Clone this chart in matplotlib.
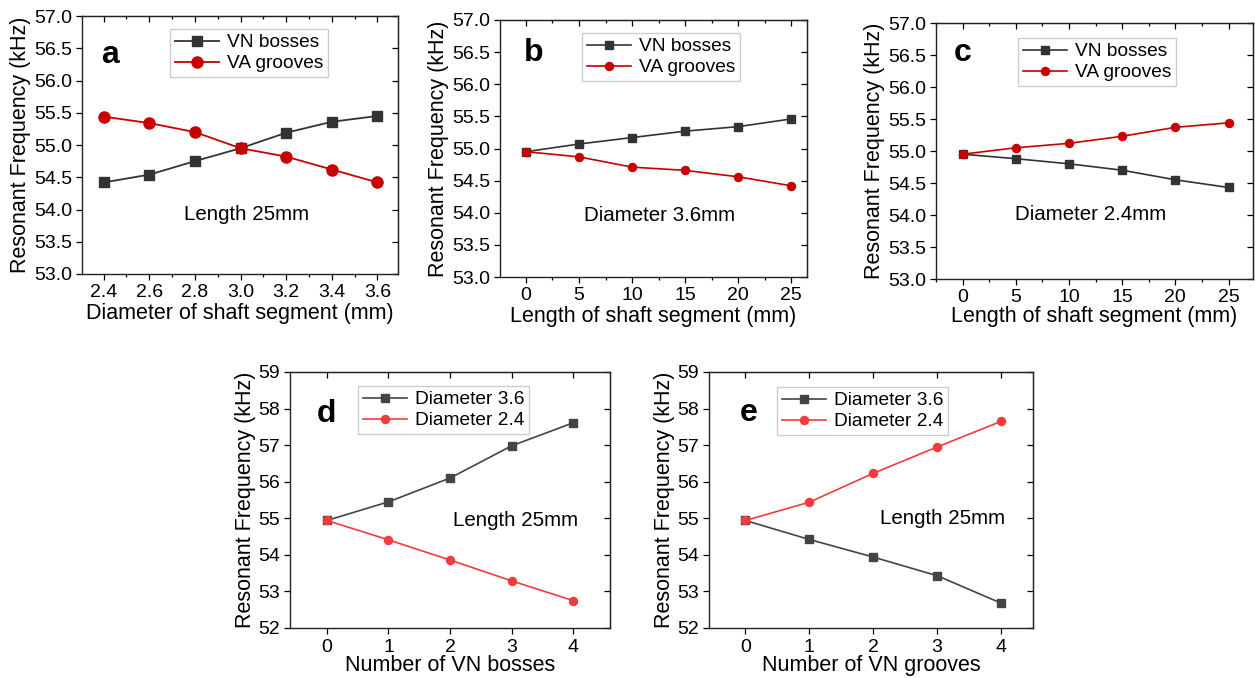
import numpy as np
import matplotlib
matplotlib.use('Agg')
import matplotlib.pyplot as plt
from matplotlib.ticker import MultipleLocator, FormatStrFormatter

plt.rcParams['font.family'] = ['Liberation Sans', 'DejaVu Sans']

W, H = 1255, 678

# panel a: diameter sweep, length 25mm
diam_a = [2.4, 2.6, 2.8, 3.0, 3.2, 3.4, 3.6]
bosses_a = [54.42, 54.54, 54.75, 54.95, 55.19, 55.36, 55.45]
grooves_a = [55.44, 55.34, 55.20, 54.95, 54.82, 54.62, 54.42]

# panel b: length sweep, diameter 3.6mm
length_b = [0, 5, 10, 15, 20, 25]
bosses_b = [54.95, 55.07, 55.17, 55.27, 55.34, 55.46]
grooves_b = [54.95, 54.87, 54.71, 54.66, 54.56, 54.42]

# panel c: length sweep, diameter 2.4mm
length_c = [0, 5, 10, 15, 20, 25]
bosses_c = [54.95, 54.88, 54.80, 54.70, 54.55, 54.43]
grooves_c = [54.95, 55.05, 55.12, 55.23, 55.37, 55.44]

# panel d: number of VN bosses
count_d = [0, 1, 2, 3, 4]
d36_d = [54.94, 55.45, 56.10, 56.98, 57.61]
d24_d = [54.94, 54.41, 53.86, 53.29, 52.75]

# panel e: number of VN grooves
count_e = [0, 1, 2, 3, 4]
d36_e = [54.94, 54.42, 53.94, 53.43, 52.68]
d24_e = [54.94, 55.44, 56.23, 56.95, 57.65]

GRAY = '#333333'
DARKRED = '#c80000'
RED = '#f03c3c'

TICK_FS = 14
LABEL_FS = 15.5
LEG_FS = 13.8
NOTE_FS = 14.8

fig = plt.figure(figsize=(W / 100, H / 100), dpi=100)


def make_ax(l, r, t, b):
    return fig.add_axes([l / W, 1 - b / H, (r - l) / W, (b - t) / H])


def style(ax):
    ax.tick_params(axis='both', which='both', labelsize=TICK_FS, width=0.9, pad=3)
    ax.tick_params(axis='both', which='major', direction='out', length=4)
    ax.tick_params(axis='x', which='minor', direction='out', length=2.5)
    for sp in ax.spines.values():
        sp.set_linewidth(1.0)
        sp.set_color('#222222')
    # mirrored inward ticks on top/right
    sx = ax.secondary_xaxis('top')
    sx.tick_params(axis='x', which='major', direction='in', length=4, width=0.9)
    sx.tick_params(axis='x', which='minor', direction='in', length=2.5, width=0.9)
    sx.xaxis.set_major_locator(ax.xaxis.get_major_locator())
    sx.xaxis.set_minor_locator(ax.xaxis.get_minor_locator())
    sx.set_xticklabels([])
    sy = ax.secondary_yaxis('right')
    sy.tick_params(axis='y', which='major', direction='in', length=4, width=0.9)
    sy.yaxis.set_major_locator(ax.yaxis.get_major_locator())
    sy.set_yticklabels([])
    ax.set_ylabel('Resonant Frequency (kHz)', fontsize=LABEL_FS, labelpad=2)


def legend(ax, x, y):
    ax.legend(loc='upper left', bbox_to_anchor=(x / W, 1 - y / H),
              bbox_transform=fig.transFigure, borderaxespad=0,
              fontsize=LEG_FS, frameon=True, fancybox=False,
              edgecolor='#cccccc', framealpha=1, handlelength=2.3,
              handletextpad=0.4, borderpad=0.25, labelspacing=0.2)


# ---- a
ax = make_ax(82, 398, 16, 274)
ax.plot(diam_a, bosses_a, color=GRAY, marker='s', ms=7, lw=1.3, label='VN bosses')
ax.plot(diam_a, grooves_a, color=DARKRED, marker='o', ms=8, lw=1.3, label='VA grooves')
ax.set_xlim(2.305, 3.69)
ax.set_ylim(53, 57)
ax.xaxis.set_major_locator(MultipleLocator(0.2))
ax.xaxis.set_minor_locator(MultipleLocator(0.1))
ax.yaxis.set_major_locator(MultipleLocator(0.5))
ax.yaxis.set_major_formatter(FormatStrFormatter('%.1f'))
ax.xaxis.set_major_formatter(FormatStrFormatter('%.1f'))
style(ax)
ax.set_xlabel('Diameter of shaft segment (mm)', fontsize=LABEL_FS, labelpad=2)
legend(ax, 170, 29)
ax.text(0.522, 0.229, 'Length 25mm', transform=ax.transAxes, ha='center', va='center', fontsize=NOTE_FS)
ax.text(0.062, 0.819, 'a', transform=ax.transAxes, fontsize=23, fontweight='bold', va='baseline')

# ---- b
ax = make_ax(500, 807, 20, 277)
ax.plot(length_b, bosses_b, color=GRAY, marker='s', ms=5.5, lw=1.2, label='VN bosses')
ax.plot(length_b, grooves_b, color=DARKRED, marker='o', ms=5.8, lw=1.2, label='VA grooves')
ax.set_xlim(-2.45, 26.5)
ax.set_ylim(53, 57)
ax.xaxis.set_major_locator(MultipleLocator(5))
ax.xaxis.set_minor_locator(MultipleLocator(2.5))
ax.yaxis.set_major_locator(MultipleLocator(0.5))
ax.yaxis.set_major_formatter(FormatStrFormatter('%.1f'))
style(ax)
ax.set_xlabel('Length of shaft segment (mm)', fontsize=LABEL_FS, labelpad=2)
legend(ax, 582, 33)
ax.text(0.52, 0.241, 'Diameter 3.6mm', transform=ax.transAxes, ha='center', va='center', fontsize=NOTE_FS)
ax.text(0.079, 0.84, 'b', transform=ax.transAxes, fontsize=23, fontweight='bold', va='baseline')

# ---- c
ax = make_ax(936, 1253, 23, 279)
ax.plot(length_c, bosses_c, color=GRAY, marker='s', ms=5.5, lw=1.2, label='VN bosses')
ax.plot(length_c, grooves_c, color=DARKRED, marker='o', ms=5.8, lw=1.2, label='VA grooves')
ax.set_xlim(-2.5, 27.3)
ax.set_ylim(53, 57)
ax.xaxis.set_major_locator(MultipleLocator(5))
ax.xaxis.set_minor_locator(MultipleLocator(2.5))
ax.yaxis.set_major_locator(MultipleLocator(0.5))
ax.yaxis.set_major_formatter(FormatStrFormatter('%.1f'))
style(ax)
ax.set_xlabel('Length of shaft segment (mm)', fontsize=LABEL_FS, labelpad=0)
legend(ax, 1018, 38)
ax.text(0.487, 0.251, 'Diameter 2.4mm', transform=ax.transAxes, ha='center', va='center', fontsize=NOTE_FS)
ax.text(0.057, 0.85, 'c', transform=ax.transAxes, fontsize=23, fontweight='bold', va='baseline')

# ---- d
ax = make_ax(290, 610, 372, 628)
ax.plot(count_d, d36_d, color='#444444', marker='s', ms=5.5, lw=1.2, label='Diameter 3.6')
ax.plot(count_d, d24_d, color=RED, marker='o', ms=5.8, lw=1.2, label='Diameter 2.4')
ax.set_xlim(-0.6, 4.6)
ax.set_ylim(52, 59)
ax.xaxis.set_major_locator(MultipleLocator(1))
ax.xaxis.set_minor_locator(MultipleLocator(1))
ax.yaxis.set_major_locator(MultipleLocator(1))
style(ax)
ax.tick_params(axis='x', pad=4)
ax.set_xlabel('Number of VN bosses', fontsize=LABEL_FS, labelpad=-1)
legend(ax, 358, 386)
ax.text(0.705, 0.42, 'Length 25mm', transform=ax.transAxes, ha='center', va='center', fontsize=NOTE_FS)
ax.text(0.085, 0.805, 'd', transform=ax.transAxes, fontsize=23, fontweight='bold', va='baseline')

# ---- e
ax = make_ax(709, 1033, 372, 628)
ax.plot(count_e, d36_e, color='#444444', marker='s', ms=5.5, lw=1.2, label='Diameter 3.6')
ax.plot(count_e, d24_e, color=RED, marker='o', ms=5.8, lw=1.2, label='Diameter 2.4')
ax.set_xlim(-0.57, 4.5)
ax.set_ylim(52, 59)
ax.xaxis.set_major_locator(MultipleLocator(1))
ax.xaxis.set_minor_locator(MultipleLocator(1))
ax.yaxis.set_major_locator(MultipleLocator(1))
style(ax)
ax.tick_params(axis='x', pad=4)
ax.set_xlabel('Number of VN grooves', fontsize=LABEL_FS, labelpad=-1)
legend(ax, 777, 387)
ax.text(0.72, 0.427, 'Length 25mm', transform=ax.transAxes, ha='center', va='center', fontsize=NOTE_FS)
ax.text(0.095, 0.81, 'e', transform=ax.transAxes, fontsize=23, fontweight='bold', va='baseline')

fig.savefig('out.png', dpi=100)
